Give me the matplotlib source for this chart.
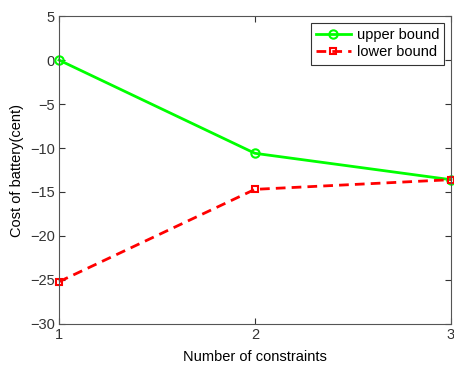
import matplotlib
matplotlib.use("Agg")
import matplotlib.pyplot as plt

x = [1, 2, 3]
upper = [0.0, -10.6, -13.6]
lower = [-25.2, -14.7, -13.6]
xticks = [1, 2, 3]
yticks = [-30, -25, -20, -15, -10, -5, 0, 5]

plt.rcParams['font.family'] = ['Liberation Sans', 'DejaVu Sans']
fig = plt.figure(figsize=(4.54, 3.66), dpi=100)
ax = fig.add_axes([0.130, 0.115, 0.863, 0.841])
ax.plot(x, upper, color='#00ff00', lw=2, marker='o', ms=6, mfc='none', mew=1.5, label='upper bound', clip_on=False)
ax.plot(x, lower, color='#ff0000', lw=2, ls=(0, (3.5, 2.2)), marker='s', ms=5, mfc='none', mew=1.5, label='lower bound', clip_on=False)
ax.set_xlim(1, 3)
ax.set_ylim(-30, 5)
ax.set_xticks(xticks)
ax.set_yticks(yticks)
ax.tick_params(direction='in', top=True, right=True, labelsize=10.5, colors='#333333', length=4, pad=3)
for s in ax.spines.values():
    s.set_color('#555555')
ax.set_xlabel('Number of constraints', fontsize=10.5, labelpad=6)
ax.set_ylabel('Cost of battery(cent)', fontsize=10.5)
leg = ax.legend(loc='upper right', fontsize=10.5, fancybox=False, edgecolor='#333333', framealpha=1,
                borderaxespad=0.45, handlelength=2.4, handletextpad=0.4, borderpad=0.35, labelspacing=0.25)
leg.get_frame().set_linewidth(0.8)
fig.savefig('out.png', dpi=100)
